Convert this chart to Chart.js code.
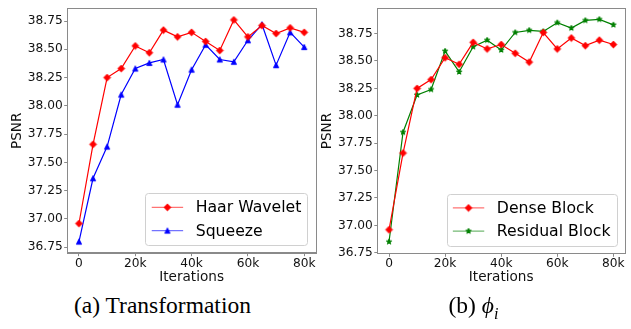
<!DOCTYPE html>
<html lang="en">
<head>
  <meta charset="UTF-8">
  <title>PSNR vs Iterations</title>
  <script src="https://cdn.jsdelivr.net/npm/chart.js"></script>
  <style>
    body {
      margin: 0;
      background: #fff;
    }

    .figure {
      position: relative;
      width: 631px;
      height: 329px;
      overflow: hidden;
    }

    .panel {
      position: absolute;
      top: 0;
    }

    .caption {
      position: absolute;
      top: 291px;
      text-align: center;
      font-family: 'Liberation Serif', 'Times New Roman', serif;
      font-size: 23.5px;
      line-height: 28px;
      color: #000;
      white-space: nowrap;
    }

    .caption sub {
      font-size: 16px;
    }
  </style>
</head>

<body>
  <div class="figure">
    <div class="panel" style="left:0"><canvas id="chartA" width="322" height="290"></canvas></div>
    <div class="panel" style="left:316px"><canvas id="chartB" width="315" height="290"></canvas></div>
    <div class="caption" style="left:0;width:325px">(a) Transformation</div>
    <div class="caption" style="left:316px;width:315px">(b) <i>ϕ<sub>i</sub></i></div>
  </div>

  <script>
    const iterations = [0, 5000, 10000, 15000, 20000, 25000, 30000, 35000, 40000, 45000, 50000, 55000, 60000, 65000, 70000, 75000, 80000];
    const haarWavelet = [36.96, 37.66, 38.25, 38.33, 38.53, 38.47, 38.67, 38.61, 38.65, 38.57, 38.49, 38.76, 38.61, 38.71, 38.64, 38.69, 38.65];
    const squeeze = [36.80, 37.36, 37.64, 38.10, 38.33, 38.38, 38.41, 38.01, 38.32, 38.54, 38.41, 38.39, 38.58, 38.72, 38.36, 38.65, 38.52];
    const denseBlock = [36.96, 37.66, 38.25, 38.33, 38.53, 38.47, 38.67, 38.61, 38.65, 38.57, 38.49, 38.76, 38.61, 38.71, 38.64, 38.69, 38.65];
    const residualBlock = [36.85, 37.85, 38.19, 38.24, 38.59, 38.40, 38.63, 38.69, 38.60, 38.76, 38.78, 38.77, 38.85, 38.80, 38.87, 38.88, 38.83];
    const xTicks = [0, 20000, 40000, 60000, 80000];
    const yTicks = [36.75, 37.00, 37.25, 37.50, 37.75, 38.00, 38.25, 38.50, 38.75];

    Chart.defaults.font.family = "'DejaVu Sans', sans-serif";
    Chart.defaults.color = '#000';

    // small canvas markers, used both on the lines and in the legend
    function marker(shape, color, r) {
      const c = document.createElement('canvas');
      const size = Math.ceil(r * 2 + 4);
      c.width = c.height = size;
      const g = c.getContext('2d');
      const m = size / 2;
      g.fillStyle = color;
      g.strokeStyle = color;
      g.lineWidth = 1;
      g.beginPath();
      if (shape === 'diamond') {
        g.moveTo(m, m - r); g.lineTo(m + r, m); g.lineTo(m, m + r); g.lineTo(m - r, m);
      } else if (shape === 'triangle') {
        g.moveTo(m, m - r); g.lineTo(m + r, m + r); g.lineTo(m - r, m + r);
      } else {
        for (let i = 0; i < 10; i++) {
          const a = -Math.PI / 2 + i * Math.PI / 5;
          const rr = i % 2 ? r * 0.42 : r;
          g.lineTo(m + rr * Math.cos(a), m + rr * Math.sin(a));
        }
      }
      g.closePath();
      g.fill();
      g.stroke();
      return c;
    }

    function series(label, values, color, shape, r) {
      return {
        label: label,
        data: iterations.map((x, i) => ({ x: x, y: values[i] })),
        borderColor: color,
        backgroundColor: color,
        borderWidth: 1.2,
        pointStyle: marker(shape, color, r),
        pointRadius: r,
        tension: 0,
      };
    }

    // axes box on all four sides
    const frame = {
      id: 'frame',
      afterDatasetsDraw(chart) {
        const { ctx, chartArea: a } = chart;
        ctx.save();
        ctx.strokeStyle = '#8a8a8a';
        ctx.lineWidth = 1;
        ctx.strokeRect(Math.round(a.left) - 0.5, Math.round(a.top) - 0.5, Math.round(a.right - a.left) + 1, Math.round(a.bottom - a.top) + 1);
        ctx.restore();
      }
    };

    // matplotlib style legend: framed box, line + marker handles, bottom right
    const boxLegend = {
      id: 'boxLegend',
      afterDraw(chart, args, opts) {
        const { ctx, chartArea: a } = chart;
        const fs = opts.fontSize;
        const sets = chart.data.datasets;
        ctx.save();
        ctx.font = fs + "px 'DejaVu Sans'";
        const textW = Math.max(...sets.map(d => ctx.measureText(d.label).width));
        const pad = 0.4 * fs, handle = 2 * fs, gap = 0.8 * fs, row = 1.48 * fs;
        const w = pad * 2 + handle + gap + textW;
        const h = 3.3 * fs;
        const x = a.right - 0.5 * fs - w;
        const y = a.bottom - 0.5 * fs - h;

        ctx.beginPath();
        ctx.roundRect(Math.round(x) + 0.5, Math.round(y) + 0.5, Math.round(w), Math.round(h), 3);
        ctx.fillStyle = 'rgba(255,255,255,0.8)';
        ctx.fill();
        ctx.strokeStyle = '#d0d0d0';
        ctx.lineWidth = 1;
        ctx.stroke();

        sets.forEach((d, i) => {
          const cy = y + (h - row) / 2 + i * row;
          const hx = x + pad;
          ctx.globalAlpha = 0.55;
          ctx.strokeStyle = d.borderColor;
          ctx.lineWidth = 1.3;
          ctx.beginPath();
          ctx.moveTo(hx, cy);
          ctx.lineTo(hx + handle, cy);
          ctx.stroke();
          ctx.globalAlpha = 1;
          const img = d.pointStyle;
          ctx.drawImage(img, hx + handle / 2 - img.width / 2, cy - img.height / 2);
          ctx.fillStyle = '#000';
          ctx.textBaseline = 'middle';
          ctx.textAlign = 'left';
          ctx.fillText(d.label, hx + handle + gap, cy + 1);
        });
        ctx.restore();
      }
    };

    function makeChart(id, datasets, yMin, yMax, geo) {
      return new Chart(document.getElementById(id), {
        type: 'line',
        data: { datasets: datasets },
        plugins: [frame, boxLegend],
        options: {
          responsive: false,
          animation: false,
          devicePixelRatio: 1,
          layout: { padding: { left: 0, top: geo.top, right: geo.right, bottom: 0 } },
          plugins: {
            legend: { display: false },
            tooltip: { enabled: false },
            boxLegend: { fontSize: 15.7 },
          },
          scales: {
            x: {
              type: 'linear',
              min: -4000,
              max: 84000,
              afterBuildTicks: s => { s.ticks = xTicks.map(v => ({ value: v })); },
              afterFit: s => { s.height = geo.xHeight; },
              ticks: {
                autoSkip: false,
                maxRotation: 0,
                padding: 0,
                font: { size: 12.2 },
                color: '#111',
                callback: v => v === 0 ? '0' : (v / 1000) + 'k',
              },
              grid: { drawOnChartArea: false, drawTicks: true, tickLength: 3.5, color: '#8a8a8a' },
              border: { color: '#8a8a8a' },
              title: { display: true, text: 'Iterations', font: { size: 13.6 }, color: '#111', padding: { top: 0, bottom: 4 } },
            },
            y: {
              type: 'linear',
              min: yMin,
              max: yMax,
              afterBuildTicks: s => { s.ticks = yTicks.map(v => ({ value: v })); },
              afterFit: s => { s.width = geo.yWidth; },
              ticks: {
                padding: 1.5,
                font: { size: 12.2 },
                color: '#111',
                callback: v => v.toFixed(2),
              },
              grid: { drawOnChartArea: false, drawTicks: true, tickLength: 3.5, color: '#8a8a8a' },
              border: { color: '#8a8a8a' },
              title: { display: true, text: 'PSNR', font: { size: 13.6 }, color: '#111', padding: { top: geo.titlePad, bottom: 0 } },
            },
          },
        },
      });
    }

    makeChart('chartA', [
      series('Haar Wavelet', haarWavelet, '#ff0000', 'diamond', 3.4),
      series('Squeeze', squeeze, '#0000ff', 'triangle', 2.6),
    ], 36.702, 38.858, { top: 7.3, right: 6.5, yWidth: 67.7, xHeight: 37.3, titlePad: 9.3 });

    makeChart('chartB', [
      series('Dense Block', denseBlock, '#ff0000', 'diamond', 3.4),
      series('Residual Block', residualBlock, '#008000', 'star', 2.8),
    ], 36.745, 38.976, { top: 7.3, right: 6.4, yWidth: 61.8, xHeight: 36.7, titlePad: 3.6 });
  </script>
</body>
</html>
